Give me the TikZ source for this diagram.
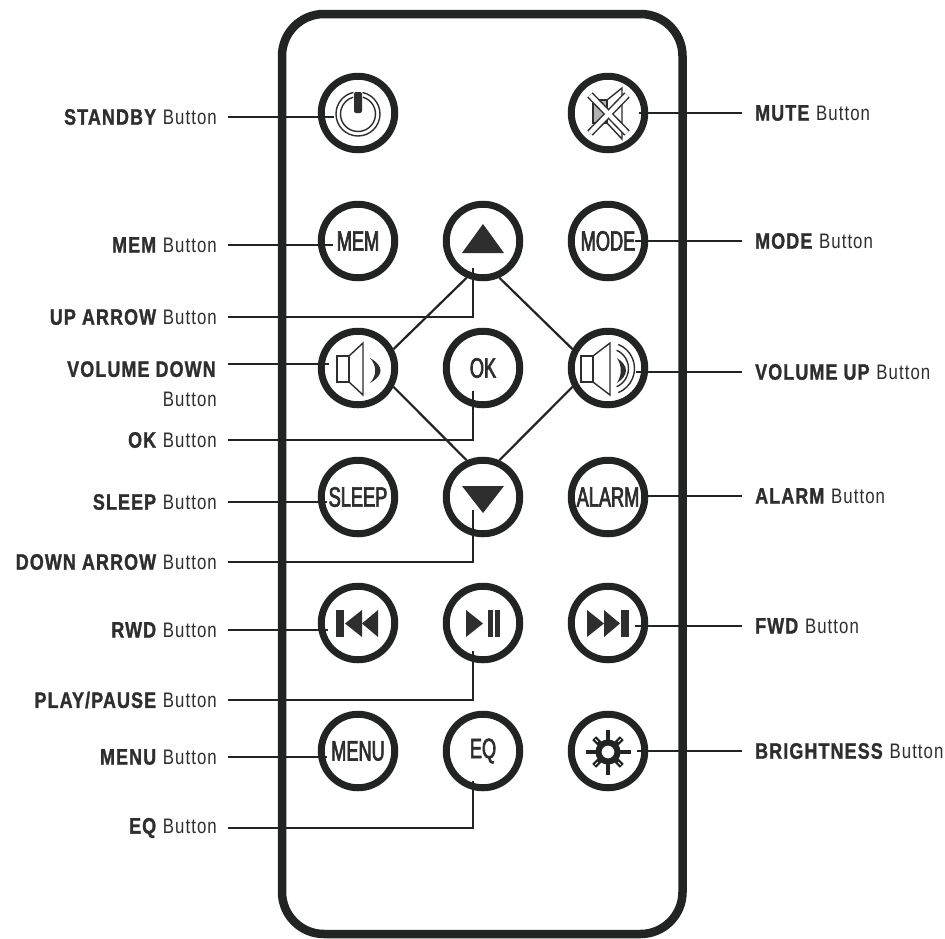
\documentclass[tikz,border=0pt]{standalone}
\usepackage{fontspec}
\setmainfont[FakeStretch=0.8,LetterSpace=5,BoldFeatures={FakeBold=1.2}]{Liberation Sans}
\newfontfamily\btnfont[FakeStretch=0.65,FakeBold=2.4]{Liberation Sans}
\definecolor{ink}{HTML}{222424}
\definecolor{txt}{HTML}{2E2E2E}
\newcommand{\lbl}[1]{{\fontsize{22.4}{24}\selectfont\textbf{#1}} Button}
\tikzset{
  btn/.style={circle,draw=ink,line width=7pt,minimum size=73.5pt,inner sep=0pt,text=txt,font=\btnfont\fontsize{28}{28}\selectfont},
  leftlabel/.style={anchor=east,text=txt,inner sep=0pt,font=\fontsize{21}{24}\selectfont,align=right},
  rightlabel/.style={anchor=west,text=txt,inner sep=0pt,font=\fontsize{21}{24}\selectfont},
  leader/.style={draw=ink,line width=1.6pt},
  diag/.style={draw=ink,line width=2.2pt},
  solid ink/.style={fill=txt,draw=none},
  thin ink/.style={draw=txt,line width=1.4pt,line join=miter},
}
\begin{document}
\begin{tikzpicture}[x=1pt,y=-1pt]
\useasboundingbox (0,0) rectangle (945,938);
\fill[white] (0,0) rectangle (945,938);
% body
\draw[draw=ink,line width=8.5pt,rounded corners=42pt] (282,14) rectangle (682.5,934);
% buttons
\node[btn] (standby) at (358,113) {};
\node[btn] (mute) at (608,113) {};
\node[btn] (mem) at (358,241) {MEM};
\node[btn] (up) at (483,241) {};
\node[btn] (mode) at (608,241) {MODE};
\node[btn] (vold) at (358,368) {};
\node[btn] (ok) at (483,368) {OK};
\node[btn] (volu) at (608,368) {};
\node[btn] (sleep) at (358,497) {SLEEP};
\node[btn] (down) at (483,497) {};
\node[btn] (alarm) at (608,497) {ALARM};
\node[btn] (rwd) at (358,623) {};
\node[btn] (play) at (483,623) {};
\node[btn] (fwd) at (608,623) {};
\node[btn] (menu) at (358,751) {MENU};
\node[btn] (eq) at (483,751) {EQ};
\node[btn] (bright) at (608,751) {};
% diamond
\draw[diag] (up.246) -- (vold.28);
\draw[diag] (up.294) -- (volu.152);
\draw[diag] (vold.332) -- (down.114);
\draw[diag] (volu.208) -- (down.66);
% power icon
\draw[thin ink] (358,114) ++(-78:22) arc (-78:258:22);
\draw[thin ink] (358,114) ++(-74:17.5) arc (-74:254:17.5);
\fill[txt,rounded corners=2pt] (354,92) rectangle (362,113);
% mute icon
\fill[black!30] (593,100) rectangle (607,123);
\draw[thin ink] (593,100) rectangle (607,123);
\draw[thin ink] (607,100) -- (622,88) -- (622,139) -- (607,123);
\foreach \a/\b/\c/\d in {590/95/627/133,627/95/590/133}{
  \draw[txt,line width=7.5pt] (\a,\b) -- (\c,\d);
}
\foreach \a/\b/\c/\d in {590/95/627/133,627/95/590/133}{
  \draw[white,line width=4.5pt] (\a,\b) -- (\c,\d);
}
% triangles
\fill[solid ink] (483,224) -- (504,253) -- (462,253) -- cycle;
\fill[solid ink] (483,513) -- (504,486) -- (462,486) -- cycle;
% volume down
\draw[thin ink] (337,356) rectangle (349,382);
\draw[thin ink] (349,356) -- (363,343) -- (363,395) -- (349,382);
\fill[solid ink] (370,358) .. controls (384,366) and (384,375) .. (370,383) .. controls (377,375) and (377,366) .. (370,358) -- cycle;
% volume up
\draw[thin ink] (581,356) rectangle (593,382);
\draw[thin ink] (593,356) -- (610,343) -- (610,395) -- (593,382);
\fill[solid ink] (617,358) .. controls (629,366) and (629,375) .. (617,383) .. controls (622,375) and (622,366) .. (617,358) -- cycle;
\draw[thin ink] (608.5,368.5) ++(-66:20) arc (-66:66:20);
\draw[thin ink] (608.5,368.5) ++(-68:26) arc (-68:68:26);
% rwd
\fill[solid ink] (336,610) rectangle (344,637);
\fill[solid ink] (345,623.5) -- (362,610) -- (362,637) -- cycle;
\fill[solid ink] (362,623.5) -- (378,610) -- (378,637) -- cycle;
% fwd
\fill[solid ink] (621,610) rectangle (629,637);
\fill[solid ink] (620,623.5) -- (604,610) -- (604,637) -- cycle;
\fill[solid ink] (604,623.5) -- (587,610) -- (587,637) -- cycle;
% play pause
\fill[solid ink] (483,623.5) -- (466,610) -- (466,637) -- cycle;
\fill[solid ink] (488,610) rectangle (493,637);
\fill[solid ink] (495,610) rectangle (500,637);
% brightness
\foreach \ang in {0,90,180,270}{\draw[ink,line width=3.2pt] (608,752) ++(\ang:10) -- ++(\ang:12.5);}
\foreach \ang in {45,135,225,315}{\draw[ink,line width=5.5pt] (608,752) ++(\ang:10) -- ++(\ang:9.5);
  \draw[white,line width=1pt] (608,752) ++(\ang:14.5) -- ++(\ang:3.5);}
\draw[ink,line width=6pt] (608,752) circle (9.5);
% tips
\coordinate (tstandby) at (334,117);
\coordinate (tmute) at (639,113);
\coordinate (tmem) at (333,245);
\coordinate (tmode) at (635,241);
\coordinate (tup) at (473,268);
\coordinate (tvold) at (329,364);
\coordinate (tvolu) at (636,372);
\coordinate (tok) at (473,391);
\coordinate (tsleep) at (327,502);
\coordinate (talarm) at (645,496);
\coordinate (tdown) at (473,510);
\coordinate (trwd) at (328,630);
\coordinate (tfwd) at (635,626);
\coordinate (tplay) at (473,651);
\coordinate (tmenu) at (327,757);
\coordinate (teq) at (473,781);
\coordinate (tbright) at (637,751);
% left labels
\node[leftlabel] (lstandby) at (217,117) {\lbl{STANDBY}};
\node[leftlabel] (lmem) at (217,245) {\lbl{MEM}};
\node[leftlabel] (lup) at (217,317) {\lbl{UP ARROW}};
\node[leftlabel,anchor=north east] (lvold) at (217,361) {{\fontsize{22.4}{24}\selectfont\textbf{VOLUME DOWN}}\\[6pt]Button};
\node[leftlabel] (lok) at (217,440) {\lbl{OK}};
\node[leftlabel] (lsleep) at (217,502) {\lbl{SLEEP}};
\node[leftlabel] (ldown) at (217,562) {\lbl{DOWN ARROW}};
\node[leftlabel] (lrwd) at (217,630) {\lbl{RWD}};
\node[leftlabel] (lplay) at (217,700) {\lbl{PLAY/PAUSE}};
\node[leftlabel] (lmenu) at (217,757) {\lbl{MENU}};
\node[leftlabel] (leq) at (217,828) {\lbl{EQ}};
% right labels
\node[rightlabel] (rmute) at (755,113) {\lbl{MUTE}};
\node[rightlabel] (rmode) at (755,241) {\lbl{MODE}};
\node[rightlabel] (rvolu) at (755,372) {\lbl{VOLUME UP}};
\node[rightlabel] (ralarm) at (755,496) {\lbl{ALARM}};
\node[rightlabel] (rfwd) at (755,626) {\lbl{FWD}};
\node[rightlabel] (rbright) at (755,751) {\lbl{BRIGHTNESS}};
% leaders
\foreach \n/\t in {lstandby/tstandby,lmem/tmem,lsleep/tsleep,lrwd/trwd,lmenu/tmenu}{
  \draw[leader,shorten <=11pt] (\n.east) -- (\t);}
\draw[leader,shorten <=11pt] (lvold.north east |- tvold) -- (tvold);
\foreach \n/\t in {rmute/tmute,rmode/tmode,rvolu/tvolu,ralarm/talarm,rfwd/tfwd,rbright/tbright}{
  \draw[leader,shorten <=13pt] (\n.west) -- (\t);}
\foreach \n/\t in {lup/tup,lok/tok,ldown/tdown,lplay/tplay,leq/teq}{
  \draw[leader,shorten <=11pt] (\n.east) -| (\t);}
\end{tikzpicture}
\end{document}
